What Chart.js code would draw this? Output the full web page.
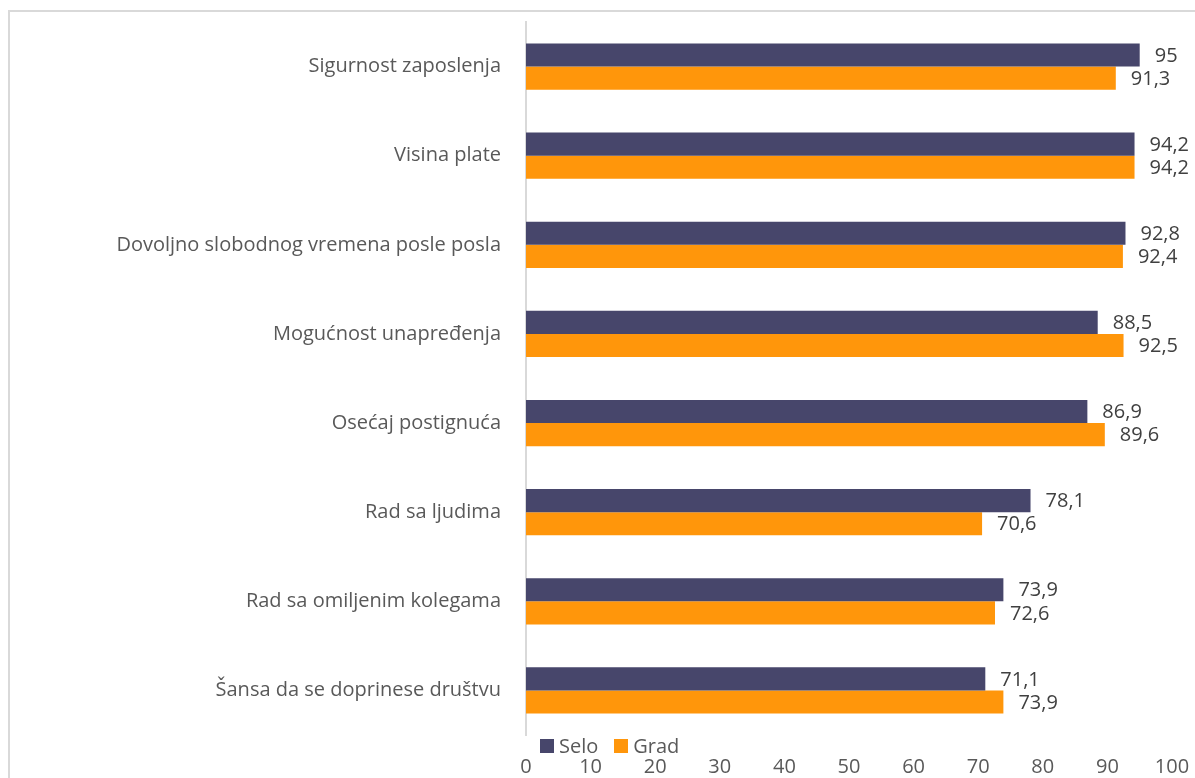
<!DOCTYPE html>
<html lang="sr">
<head>
    <meta charset="UTF-8">
    <title>Selo / Grad</title>
    <script src="https://cdn.jsdelivr.net/npm/chart.js"></script>
    <style>
        body {
            margin: 0;
            padding: 0;
            background: #fff;
            overflow: hidden;
            font-family: "Open Sans", Arial, sans-serif;
        }

        .frame {
            position: absolute;
            left: 8px;
            top: 10px;
            width: 1220px;
            height: 800px;
            border: 2px solid #d9d9d9;
            box-sizing: border-box;
        }

        .wrap {
            position: absolute;
            left: 0;
            top: 0;
            width: 1195px;
            height: 778px;
        }

        /* legenda ispod ose, kao u originalu */
        .legend {
            position: absolute;
            left: 540px;
            top: 731px;
            display: flex;
            gap: 16px;
            font-size: 20px;
            line-height: 30px;
            color: #595959;
        }

        .legend span {
            display: flex;
            align-items: center;
        }

        .legend i {
            display: inline-block;
            width: 14px;
            height: 14px;
            margin-right: 5px;
        }
    </style>
</head>
<body>
    <div class="frame"></div>
    <div class="wrap">
        <canvas id="myChart" width="1195" height="778"></canvas>
    </div>
    <div class="legend">
        <span><i style="background:#47466b"></i>Selo</span>
        <span><i style="background:#ff960b"></i>Grad</span>
    </div>

    <script>
        var categories = [
            'Sigurnost zaposlenja',
            'Visina plate',
            'Dovoljno slobodnog vremena posle posla',
            'Mogućnost unapređenja',
            'Osećaj postignuća',
            'Rad sa ljudima',
            'Rad sa omiljenim kolegama',
            'Šansa da se doprinese društvu'
        ];
        var selo = [95, 94.2, 92.8, 88.5, 86.9, 78.1, 73.9, 71.1];
        var grad = [91.3, 94.2, 92.4, 92.5, 89.6, 70.6, 72.6, 73.9];

        var fontFam = '"Open Sans", Arial, sans-serif';

        // vrednosti pored stubića, sa decimalnim zarezom
        var valueLabels = {
            id: 'valueLabels',
            afterDatasetsDraw: function (chart) {
                var ctx = chart.ctx;
                ctx.save();
                ctx.font = '20px ' + fontFam;
                ctx.fillStyle = '#404040';
                ctx.textAlign = 'left';
                ctx.textBaseline = 'middle';
                chart.data.datasets.forEach(function (ds, i) {
                    chart.getDatasetMeta(i).data.forEach(function (bar, j) {
                        var txt = String(ds.data[j]).replace('.', ',');
                        ctx.fillText(txt, bar.x + 15, bar.y + 1);
                    });
                });
                ctx.restore();
            }
        };

        var ctx = document.getElementById('myChart').getContext('2d');
        var myChart = new Chart(ctx, {
            type: 'bar',
            data: {
                labels: categories,
                datasets: [{
                    label: 'Selo',
                    data: selo,
                    backgroundColor: '#47466b',
                    barPercentage: 1,
                    categoryPercentage: 0.52
                }, {
                    label: 'Grad',
                    data: grad,
                    backgroundColor: '#ff960b',
                    barPercentage: 1,
                    categoryPercentage: 0.52
                }]
            },
            options: {
                indexAxis: 'y',
                responsive: false,
                animation: false,
                layout: {
                    padding: { left: 0, right: 23, top: 22, bottom: 0 }
                },
                plugins: {
                    legend: { display: false },
                    tooltip: { enabled: false }
                },
                scales: {
                    x: {
                        min: 0,
                        max: 100,
                        grid: { display: false },
                        border: { display: false },
                        ticks: {
                            stepSize: 10,
                            color: '#595959',
                            padding: 12,
                            font: { family: fontFam, size: 20 }
                        },
                        afterFit: function (scale) {
                            scale.height = 43;
                            scale.paddingLeft = 0;
                            scale.paddingRight = 0;
                        }
                    },
                    y: {
                        grid: { display: false },
                        border: { display: true, color: '#d9d9d9', width: 2 },
                        ticks: {
                            color: '#595959',
                            padding: 17,
                            font: { family: fontFam, size: 20 }
                        },
                        afterFit: function (scale) {
                            scale.width = 526;
                            scale.paddingTop = 0;
                            scale.paddingBottom = 0;
                        }
                    }
                }
            },
            plugins: [valueLabels]
        });
    </script>
</body>
</html>
